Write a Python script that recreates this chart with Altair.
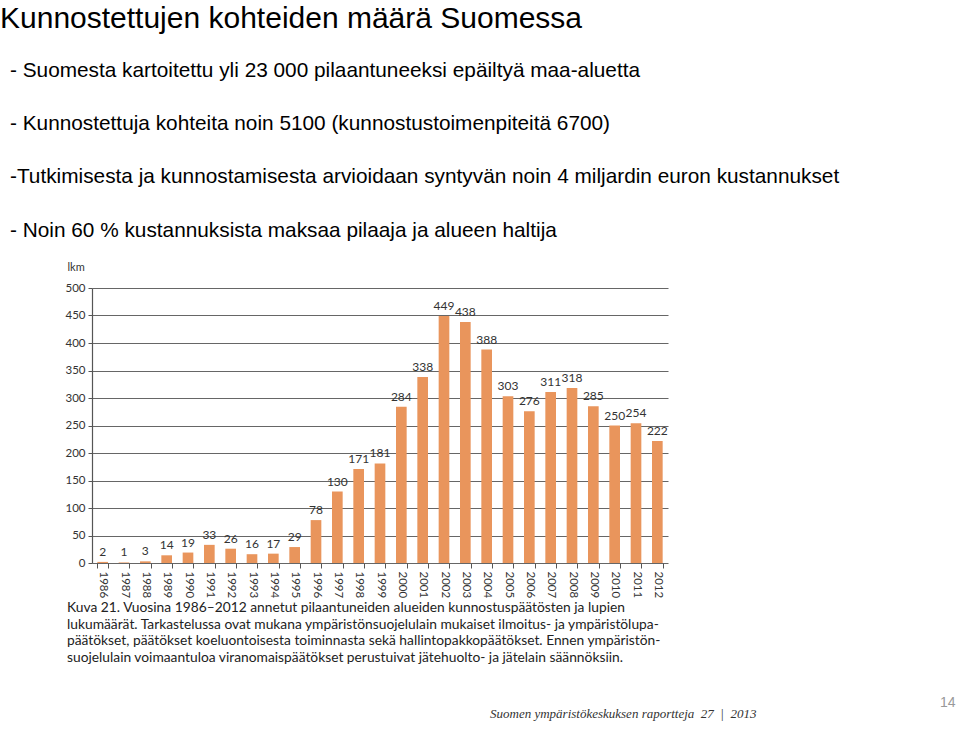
import altair as alt
import pandas as pd

years = ["1986", "1987", "1988", "1989", "1990", "1991", "1992", "1993", "1994",
         "1995", "1996", "1997", "1998", "1999", "2000", "2001", "2002", "2003",
         "2004", "2005", "2006", "2007", "2008", "2009", "2010", "2011", "2012"]
counts = [2, 1, 3, 14, 19, 33, 26, 16, 17, 29, 78, 130, 171, 181, 284, 338,
          449, 438, 388, 303, 276, 311, 318, 285, 250, 254, 222]
y_ticks = [0, 50, 100, 150, 200, 250, 300, 350, 400, 450, 500]

title_text = "Kunnostettujen kohteiden määrä Suomessa"
bullets = [
    "- Suomesta kartoitettu yli 23 000 pilaantuneeksi epäiltyä maa-aluetta",
    "- Kunnostettuja kohteita noin 5100 (kunnostustoimenpiteitä 6700)",
    "-Tutkimisesta ja kunnostamisesta arvioidaan syntyvän noin 4 miljardin euron kustannukset",
    "- Noin 60 % kustannuksista maksaa pilaaja ja alueen haltija",
]
caption = [
    "Kuva 21. Vuosina 1986–2012 annetut pilaantuneiden alueiden kunnostuspäätösten ja lupien",
    "lukumäärät. Tarkastelussa ovat mukana ympäristönsuojelulain mukaiset ilmoitus- ja ympäristölupa-",
    "päätökset, päätökset koeluontoisesta toiminnasta sekä hallintopakkopäätökset. Ennen ympäristön-",
    "suojelulain voimaantuloa viranomaispäätökset perustuivat jätehuolto- ja jätelain säännöksiin.",
]
footer = "Suomen ympäristökeskuksen raportteja\u00a0 27\u00a0 |\u00a0 2013"
page_no = "14"

df = pd.DataFrame({"year": years, "count": counts})

BAR = "#E9955C"
FONT = "Lato"
HEAD = "Liberation Sans"

x_enc = alt.X("year:N", sort=years,
              scale=alt.Scale(paddingInner=0.5, paddingOuter=0.25),
              axis=alt.Axis(title=None, labelAngle=90, labelAlign="left",
                            labelBaseline="middle", labelFont=FONT, labelFontSize=11.5,
                            labelColor="#333", labelPadding=3, tickBand="extent",
                            ticks=True, tickSize=5, tickColor="#555", domain=False,
                            grid=False, labelOverlap=False))
y_enc = alt.Y("count:Q", scale=alt.Scale(domain=[0, 500], nice=False),
              axis=alt.Axis(values=y_ticks, tickCount=11, title="lkm", titleAngle=0,
                            titleAlign="left", titleX=-25, titleY=-16,
                            titleFont=FONT, titleFontSize=11, titleFontWeight="normal",
                            titleColor="#333", labelOverlap=False,
                            labelFont=FONT, labelFontSize=11.5, labelColor="#333",
                            labelPadding=3, tickSize=4, tickColor="#555",
                            domainColor="#555", domainWidth=1.2,
                            grid=True, gridColor="#666", gridWidth=1.2))

base = alt.Chart(df)

bars = base.mark_bar(color=BAR).encode(x=x_enc, y=y_enc)

labels = base.mark_text(baseline="bottom", dy=-3, font=FONT, fontSize=12,
                        color="#333").encode(x=x_enc, y=y_enc, text="count:Q")

one = alt.Data(values=[{"k": 1}])


def txt(x, y, text, **kw):
    return alt.Chart(one).mark_text(align="left", baseline="alphabetic", **kw).encode(
        x=alt.value(x), y=alt.value(y), text=alt.value(text))


ox, oy = 92, 288
layers = [bars, labels]
layers.append(txt(0 - ox, 27.5 - oy, title_text, font=HEAD,
                  fontSize=30, color="#000"))
for i, b in enumerate(bullets):
    layers.append(txt(10 - ox, [77, 130, 183, 237][i] - oy, b,
                      font=HEAD, fontSize=20.8, color="#000"))
layers.append(alt.Chart(one).mark_text(align="left", baseline="alphabetic", font=FONT,
                                       fontSize=13.8, lineHeight=16.7,
                                       color="#222").encode(
    x=alt.value(67 - ox), y=alt.value(612 - oy), text=alt.value(caption)))
layers.append(txt(490 - ox, 718 - oy, footer, font="Liberation Serif",
                  fontStyle="italic", fontSize=13, color="#333"))
layers.append(txt(940 - ox, 707 - oy, page_no, font="Liberation Sans",
                  fontSize=14, color="#999"))

chart = alt.layer(*layers).properties(
    width=576, height=275,
    autosize=alt.AutoSizeParams(type="none"),
    padding={"left": ox, "top": oy, "right": 960 - ox - 576, "bottom": 730 - oy - 275},
    background="white",
).configure_view(stroke=None)

chart.save("out.html", embed_options={"renderer": "svg", "actions": False})
